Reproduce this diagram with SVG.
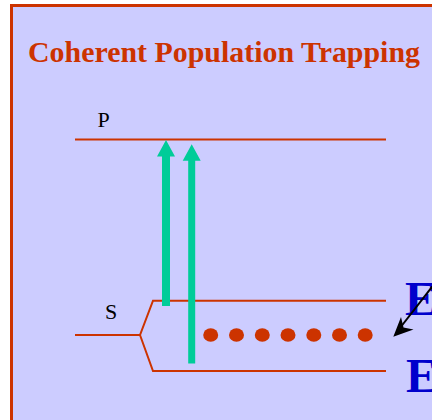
<svg xmlns="http://www.w3.org/2000/svg" width="432" height="420" viewBox="0 0 432 420">
  <style>
    .lvl { stroke: #CC3300; stroke-width: 2; fill: none; }
    .lbl { font-family: "Liberation Serif", "Times New Roman", serif; font-size: 22px; fill: #000000; }
    .E { font-family: "Liberation Serif", "Times New Roman", serif; font-size: 48px; font-weight: bold; fill: #0000CC; }
    .dot { fill: #CC3300; }
    .pump { fill: #00CC99; }
  </style>
  <rect x="0" y="0" width="432" height="420" fill="#FFFFFF"/>
  <rect id="frame" x="11.5" y="5.5" width="440" height="430" fill="#CCCCFF" stroke="#CC3300" stroke-width="3"/>

  <g id="title">
    <text x="28" y="62" font-family="Liberation Serif, Times New Roman, serif" font-size="29" font-weight="bold" fill="#CC3300" textLength="392" lengthAdjust="spacingAndGlyphs">Coherent Population Trapping</text>
  </g>

  <g id="level-P">
    <line class="lvl" x1="75" y1="139.5" x2="386" y2="139.5"/>
    <text class="lbl" x="97.5" y="127.3">P</text>
  </g>

  <g id="level-S">
    <polyline class="lvl" points="75,335 140,335 153,300.7 386,300.7"/>
    <polyline class="lvl" points="140,335 153,371 386,371"/>
    <text class="lbl" x="105" y="318.5">S</text>
  </g>

  <g id="population">
    <ellipse class="dot" cx="210.7" cy="335" rx="7.5" ry="6.8"/>
    <ellipse class="dot" cx="236.5" cy="335" rx="7.5" ry="6.8"/>
    <ellipse class="dot" cx="262.3" cy="335" rx="7.5" ry="6.8"/>
    <ellipse class="dot" cx="288" cy="335" rx="7.5" ry="6.8"/>
    <ellipse class="dot" cx="313.8" cy="335" rx="7.5" ry="6.8"/>
    <ellipse class="dot" cx="339.5" cy="335" rx="7.5" ry="6.8"/>
    <ellipse class="dot" cx="365.2" cy="335" rx="7.5" ry="6.8"/>
  </g>

  <g id="label-E-upper">
    <text class="E" x="405" y="315">E</text>
  </g>
  <g id="label-E-lower">
    <text class="E" x="406" y="392">E</text>
  </g>

  <g id="connectors">
    <polygon class="pump" points="162,306 170,306 170,156.5 175,156.5 166,140 157,156.5 162,156.5"/>
    <polygon class="pump" points="188.2,363.5 195.2,363.5 195.2,160.7 200.7,160.7 191.7,144.3 182.7,160.7 188.2,160.7"/>
    <line x1="440" y1="276.5" x2="398" y2="330.5" stroke="#000000" stroke-width="2"/>
    <path d="M393.3,336.7 L413.5,329.5 L403.5,327.5 L401,317 Z" fill="#000000"/>
  </g>
</svg>
